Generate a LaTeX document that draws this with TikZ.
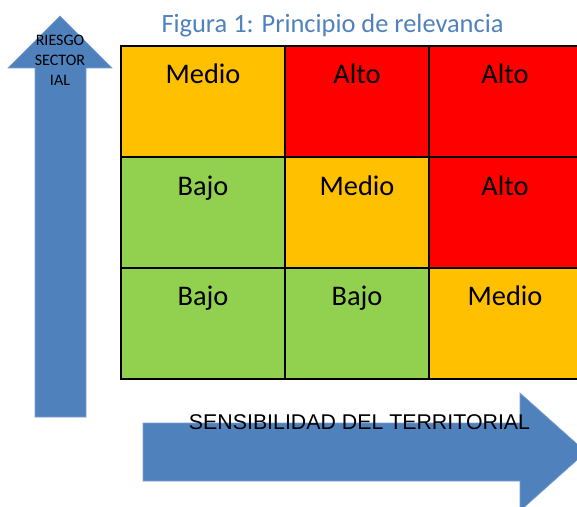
\documentclass[tikz,border=0pt]{standalone}
\usepackage{fontspec}
\setmainfont{Carlito}
\newfontfamily\arialfont{Liberation Sans}
\definecolor{medio}{HTML}{FFC000}
\definecolor{alto}{HTML}{FF0000}
\definecolor{bajo}{HTML}{92D050}
\definecolor{flecha}{HTML}{4F81BD}
\definecolor{flechaborde}{HTML}{7AA0D0}
\definecolor{titulo}{HTML}{4F81BD}
\begin{document}
\begin{tikzpicture}[x=0.75pt, y=-0.75pt,
    celda/.style={draw=black, line width=1.1pt, inner sep=0pt, minimum height=83.25pt},
    nivel/.style={anchor=base, inner sep=0pt, font=\fontsize{21.3}{25}\selectfont},
    flechas/.style={fill=flecha, draw=flechaborde, line width=0.5pt}]
    \useasboundingbox (0,0) rectangle (577,506);
    \clip (0,0) rectangle (577,506);

    % flechas
    \filldraw[flechas] (35,417) -- (35,68) -- (8,68) -- (60,16) -- (112,68) -- (86,68) -- (86,417) -- cycle;
    \filldraw[flechas] (143,423) -- (520,423) -- (520,393) -- (586,452) -- (520,511) -- (520,481) -- (143,481) -- cycle;

    % matriz
    \node[celda, fill=medio, minimum width=123pt] (A1) at (203,101.5) {};
    \node[celda, fill=alto, minimum width=108pt] (A2) at (357,101.5) {};
    \node[celda, fill=alto, minimum width=114pt] (A3) at (505,101.5) {};
    \node[celda, fill=bajo, minimum width=123pt] (B1) at (203,212.5) {};
    \node[celda, fill=medio, minimum width=108pt] (B2) at (357,212.5) {};
    \node[celda, fill=alto, minimum width=114pt] (B3) at (505,212.5) {};
    \node[celda, fill=bajo, minimum width=123pt] (C1) at (203,323.5) {};
    \node[celda, fill=bajo, minimum width=108pt] (C2) at (357,323.5) {};
    \node[celda, fill=medio, minimum width=114pt] (C3) at (505,323.5) {};

    \node[nivel] (tA1) at (203,84) {Medio};
    \node[nivel] (tA2) at (357,84) {Alto};
    \node[nivel] (tA3) at (505,84) {Alto};
    \node[nivel] (tB1) at (203,195) {Bajo};
    \node[nivel] (tB2) at (357,195) {Medio};
    \node[nivel] (tB3) at (505,195) {Alto};
    \node[nivel] (tC1) at (203,305) {Bajo};
    \node[nivel] (tC2) at (357,305) {Bajo};
    \node[nivel] (tC3) at (505,305) {Medio};

    % textos
    \node[anchor=base, inner sep=0pt, text=titulo, font=\fontsize{19.8}{23}\selectfont] (titulo) at (332.5,33) {Figura 1: Principio de relevancia};
    \node[anchor=north, inner sep=0pt, align=center, font=\fontsize{12}{15}\selectfont] (riesgo) at (60,35) {RIESGO\\SECTOR\\IAL};
    \node[anchor=base, inner sep=0pt, font=\arialfont\fontsize{16}{20}\selectfont] (sensib) at (359.5,429) {SENSIBILIDAD DEL TERRITORIAL};
\end{tikzpicture}
\end{document}
